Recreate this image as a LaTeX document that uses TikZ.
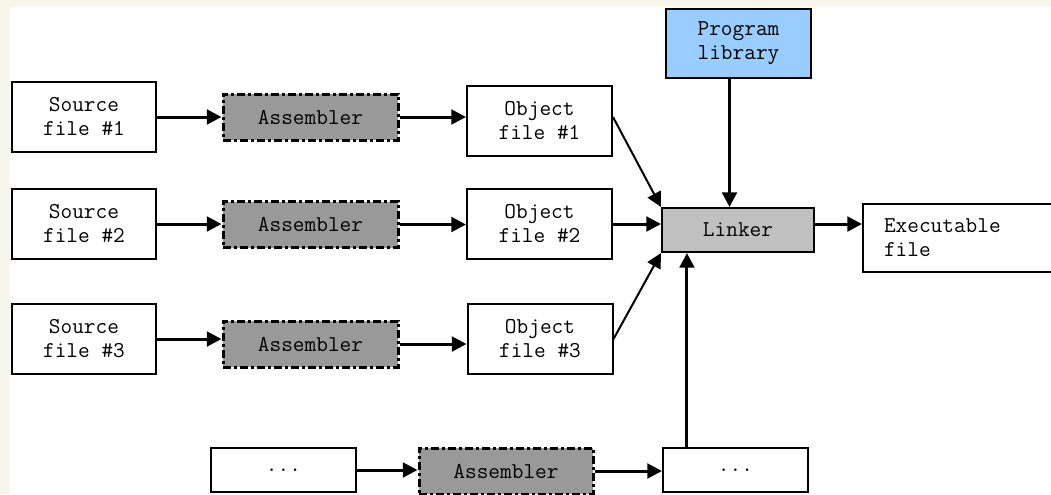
\documentclass[tikz,border=0pt]{standalone}
\usepackage{fontspec}
\usetikzlibrary{arrows.meta}

\definecolor{paper}{RGB}{246,247,234}
\definecolor{asmgray}{RGB}{153,153,153}
\definecolor{lnkgray}{RGB}{192,192,192}
\definecolor{libblue}{RGB}{153,204,255}

\tikzset{
  filebox/.style={draw=black, line width=1.5pt, fill=white, align=center,
    minimum width=108.75pt, minimum height=52.5pt, inner sep=0pt},
  smallbox/.style={filebox, minimum height=33pt},
  asmbox/.style={draw=black, line width=2.25pt, fill=asmgray, align=center,
    dash pattern=on 6pt off 2.25pt on 2.25pt off 2.25pt,
    minimum width=131.25pt, minimum height=34.5pt, inner sep=0pt},
  linkbox/.style={draw=black, line width=1.5pt, fill=lnkgray,
    minimum width=114pt, minimum height=33pt, inner sep=0pt},
  libbox/.style={filebox, fill=libblue, minimum height=51.75pt},
  flow/.style={line width=2.25pt, -{Triangle[length=11pt,width=11pt]}},
  thinflow/.style={line width=1.5pt, -{Triangle[length=11pt,width=11pt]}},
}

\begin{document}
\begin{tikzpicture}[x=0.75pt, y=-0.75pt,
    font=\ttfamily\fontsize{17}{18}\selectfont]
  % page: white sheet with a cream edge at top and left
  \clip (0,0) rectangle (1051,494);
  \fill[white] (0,0) rectangle (1051,494);
  \fill[paper] (0,0) rectangle (1051,7);
  \fill[paper] (0,0) rectangle (10,494);

  % source files
  \node[filebox, minimum width=108pt] (src1) at (84,117) {Source\\file \#1};
  \node[filebox, minimum width=108pt] (src2) at (84,224) {Source\\file \#2};
  \node[filebox, minimum width=108pt] (src3) at (84,339) {Source\\file \#3};

  % assemblers
  \node[asmbox] (asm1) at (310.5,117) {Assembler};
  \node[asmbox] (asm2) at (310.5,224.5) {Assembler};
  \node[asmbox] (asm3) at (310.5,344) {Assembler};

  % object files
  \node[filebox] (obj1) at (539.5,121) {Object\\file \#1};
  \node[filebox] (obj2) at (539.5,224) {Object\\file \#2};
  \node[filebox] (obj3) at (540,339) {Object\\file \#3};

  % library, linker, result
  \node[libbox] (lib) at (738.5,43.5) {Program\\library};
  \node[linkbox] (lnk) at (738,230) {Linker};
  \node[draw=black, line width=1.5pt, fill=white, anchor=west,
        minimum height=51pt, text width=160pt, inner xsep=15.75pt,
        align=left] (exe) at (862,238) {Executable\\file};

  % further inputs
  \node[smallbox] (dots1) at (283.5,470) {...};
  \node[asmbox, minimum width=130.5pt] (asm4) at (506,471) {Assembler};
  \node[smallbox] (dots2) at (735.5,470) {...};

  % source -> assembler -> object
  \draw[flow] (src1) -- (src1 -| asm1.west);
  \draw[flow] (asm1) -- (asm1 -| obj1.west);
  \draw[flow] (src2) -- (src2 -| asm2.west);
  \draw[flow] (asm2) -- (asm2 -| obj2.west);
  \draw[flow] (src3) -- (src3 -| asm3.west);
  \draw[flow] (asm3) -- (asm3 -| obj3.west);
  \draw[flow] (dots1) -- (dots1 -| asm4.west);
  \draw[flow] (asm4) -- (asm4 -| dots2.west);

  % objects and library into the linker
  \draw[thinflow] (asm1 -| obj1.east) -- (lnk.north west);
  \draw[flow] (obj2) -- (obj2 -| lnk.west);
  \draw[thinflow] (obj3.east) -- (lnk.south west);
  \draw[flow] ([xshift=-6.75pt]lib.south) -- ([xshift=-6.75pt]lib.south |- lnk.north);
  \draw[flow] ([xshift=-36.4pt]dots2.north) -- ([xshift=-36.4pt]dots2.north |- lnk.south);

  % linker output
  \draw[flow] (lnk.east |- obj2) -- (exe.west |- obj2);
\end{tikzpicture}
\end{document}
